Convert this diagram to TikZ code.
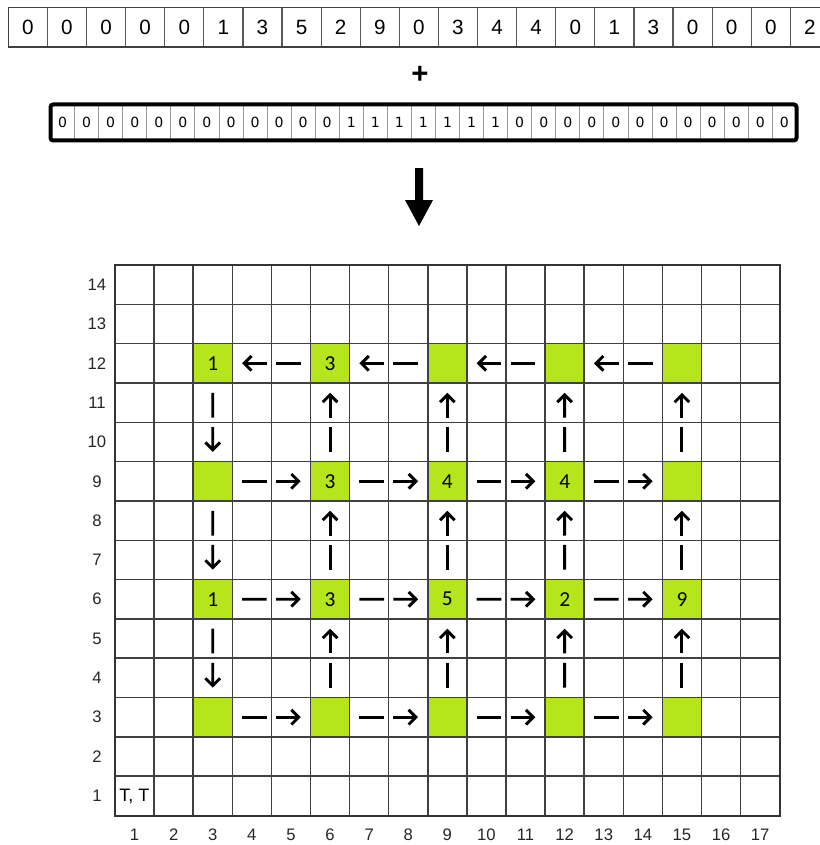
\documentclass[tikz,border=0pt]{standalone}
\usepackage{fontspec}
\setmainfont{Liberation Sans}
\newfontfamily\calfont{Carlito}
\newfontfamily\dvfont{DejaVu Sans}
\usetikzlibrary{arrows.meta,calc}
\definecolor{cellgreen}{RGB}{181,230,29}
\tikzset{
 topcell/.style={draw=black!65, line width=0.9pt, minimum width=29.33pt, minimum height=29.25pt, inner sep=0pt, font=\fontsize{15.5}{16}\selectfont},
 bitcell/.style={draw=black!40, line width=0.6pt, minimum width=18.05pt, minimum height=27pt, inner sep=0pt, font=\dvfont\fontsize{10.5}{11}\selectfont},
 greencell/.style={fill=cellgreen, minimum width=29.33pt, minimum height=29.5pt, inner sep=0pt, font=\calfont\fontsize{16}{16}\selectfont},
 gridline/.style={draw=black!75, line width=1.1pt},
 axislabel/.style={font=\fontsize{12.5}{13}\selectfont, text=black!85},
 flowline/.style={line width=2.2pt, black},
 flowtip/.style={-{Straight Barb[length=5.5pt,width=11pt]}},
}
\newcommand\flowpair[2]{%
  \draw[flowline] ($(#1)!0.25!(#2)$) -- ($(#1)!0.46!(#2)$);
  \draw[flowline,flowtip] ($(#1)!0.54!(#2)$) -- ($(#1)!0.75!(#2)$);}
\begin{document}
\begin{tikzpicture}[x=0.75pt,y=-0.75pt]
\useasboundingbox (0,0) rectangle (820,845);
\clip (0,0) rectangle (820,845);
% top row
\foreach \d [count=\i] in {0,0,0,0,0,1,3,5,2,9,0,3,4,4,0,1,3,0,0,0,2}
  \node[topcell] (t\i) at ({8.3+39.1*(\i-0.5)},27) {\d};
\draw[black!75, line width=0.9pt] (8.3,7.5) -- (829.4,7.5);
\draw[black!75, line width=1.8pt] (8.3,47) -- (829.4,47);
\draw[black!75, line width=1.2pt] (8.3,7.5) -- (8.3,47);
% plus
\node[font=\bfseries\fontsize{22}{22}\selectfont] (plus) at (420,75) {+};
% bit row
\foreach \d [count=\i] in {0,0,0,0,0,0,0,0,0,0,0,0,1,1,1,1,1,1,1,0,0,0,0,0,0,0,0,0,0,0,0}
  \node[bitcell] (b\i) at ({50.5+24.06*(\i-0.5)},122.5) {\d};
\draw[black, line width=3pt, rounded corners=2pt] (50.5,104.5) rectangle (796.5,140.5);
% down arrow
\fill[black] (415,168) -- (423,168) -- (423,200) -- (433,200) -- (419,226) -- (405,200) -- (415,200) -- cycle;
% green cells
\foreach \c/\r/\t in {3/12/1,6/12/{\raisebox{-4pt}{3}},9/12/{},12/12/{},15/12/{},
                     3/9/{},6/9/3,9/9/4,12/9/4,15/9/{},
                     3/6/1,6/6/3,9/6/5,12/6/2,15/6/9,
                     3/3/{},6/3/{},9/3/{},12/3/{},15/3/{}}
  \node[greencell] (g-\c-\r) at ({115+39.1*(\c-0.5)},{265+39.32*(14.5-\r)}) {\t};
% grid
\foreach \c in {1,...,16}
  \draw[gridline] ({115+39.1*\c},265) -- ({115+39.1*\c},815.5);
\foreach \r in {1,...,13}
  \draw[gridline] (115,{265+39.32*\r}) -- (779.7,{265+39.32*\r});
\draw[black!80, line width=1.5pt] (115,265) rectangle (779.7,815.5);
% labels
\foreach \r in {1,...,14}
  \node[axislabel] (rl\r) at (97,{265+39.32*(14.5-\r)}) {\r};
\foreach \c in {1,...,17}
  \node[axislabel] (cl\c) at ({115+39.1*(\c-0.5)},835) {\c};
\node[font=\fontsize{13.5}{14}\selectfont, anchor=west, inner sep=0pt] (tt) at (119,796) {T, T};
% flows
\flowpair{g-15-12}{g-12-12}
\flowpair{g-12-12}{g-9-12}
\flowpair{g-9-12}{g-6-12}
\flowpair{g-6-12}{g-3-12}
\flowpair{g-3-12}{g-3-9}
\flowpair{g-3-9}{g-3-6}
\flowpair{g-3-6}{g-3-3}
\foreach \r in {3,6,9}{
  \flowpair{g-3-\r}{g-6-\r}
  \flowpair{g-6-\r}{g-9-\r}
  \flowpair{g-9-\r}{g-12-\r}
  \flowpair{g-12-\r}{g-15-\r}
}
\foreach \c in {6,9,12,15}{
  \flowpair{g-\c-3}{g-\c-6}
  \flowpair{g-\c-6}{g-\c-9}
  \flowpair{g-\c-9}{g-\c-12}
}
\end{tikzpicture}
\end{document}
